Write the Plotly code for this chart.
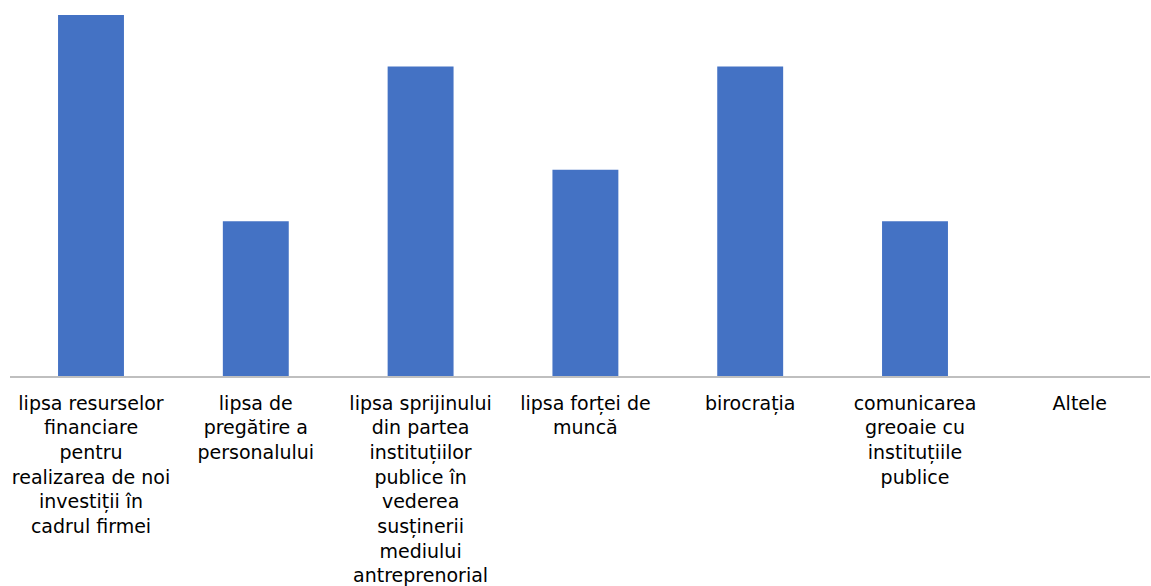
import plotly.graph_objects as go

categories = [
    "lipsa resurselor<br>financiare<br>pentru<br>realizarea de noi<br>investiții în<br>cadrul firmei",
    "lipsa de<br>pregătire a<br>personalului",
    "lipsa sprijinului<br>din partea<br>instituțiilor<br>publice în<br>vederea<br>susținerii<br>mediului<br>antreprenorial",
    "lipsa forței de<br>muncă",
    "birocrația",
    "comunicarea<br>greoaie cu<br>instituțiile<br>publice",
    "Altele",
]
values = [7, 3, 6, 4, 6, 3, 0]

fig = go.Figure(
    go.Bar(
        x=categories,
        y=values,
        marker=dict(color="#4472c4", line=dict(width=0)),
    )
)

fig.update_layout(
    width=1151,
    height=586,
    margin=dict(l=10, r=1, t=15, b=210),
    paper_bgcolor="white",
    plot_bgcolor="white",
    bargap=0.6,
    showlegend=False,
    font=dict(family="'DejaVu Sans', sans-serif", size=19, color="#000000"),
)
fig.update_xaxes(
    range=[-0.4915, 6.426],
    showline=True,
    linecolor="#bfbfbf",
    linewidth=1.5,
    ticks="",
    tickangle=0,
    showgrid=False,
    ticklabelstandoff=9,
)
fig.update_yaxes(
    range=[0, 7],
    visible=False,
    showgrid=False,
    zeroline=False,
)

fig.write_html("out.html")
